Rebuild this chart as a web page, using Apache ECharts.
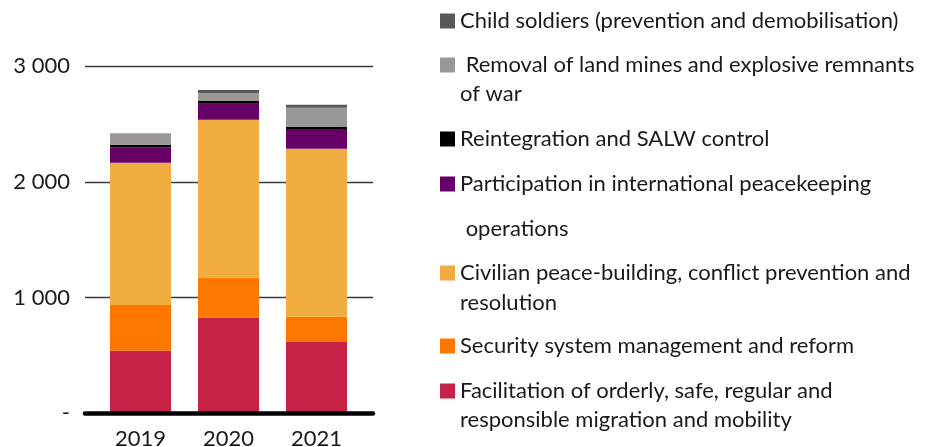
<!DOCTYPE html>
<html>
<head>
<meta charset="utf-8">
<style>
html,body{margin:0;padding:0;background:#fff;}
#chart{width:933px;height:447px;}
</style>
<script src="https://cdn.jsdelivr.net/npm/echarts@6/dist/echarts.min.js"></script>
</head>
<body>
<div id="chart"></div>
<script>
// ---- data ----
var years = ['2019', '2020', '2021'];
var facilitation = [542, 828, 617];
var security = [395, 346, 219];
var civilian = [1229, 1364, 1452];
var participation = [135, 139, 170];
var reintegration = [20, 23, 17];
var removal = [101, 69, 167];
var childSoldiers = [0, 26, 26];
var yTickLabels = ['-', '1 000', '2 000', '3 000'];

var names = {
  child: 'Child soldiers (prevention and demobilisation)',
  removal: 'Removal of land mines and explosive remnants of war',
  reint: 'Reintegration and SALW control',
  part: 'Participation in international peacekeeping operations',
  civ: 'Civilian peace-building, conflict prevention and resolution',
  sec: 'Security system management and reform',
  fac: 'Facilitation of orderly, safe, regular and responsible migration and mobility'
};
var colors = {
  child: '#585858', removal: '#9b9797', reint: '#000000', part: '#660066',
  civ: '#f0ac3f', sec: '#fe7800', fac: '#c62245'
};
// legend display text (blank first line keeps marker on the first text line)
var legendText = {
  child: 'Child soldiers (prevention and demobilisation)',
  removal: '\n Removal of land mines and explosive remnants\nof war',
  reint: 'Reintegration and SALW control',
  part: '\nParticipation in international peacekeeping\n operations',
  civ: '\nCivilian peace-building, conflict prevention and\nresolution',
  sec: 'Security system management and reform',
  fac: '\nFacilitation of orderly, safe, regular and\nresponsible migration and mobility'
};
var FONT = 'Lato';
var FS = 22;
var TXT = '#1a1a1a';

// legend marker centres (y) and line heights
var legendSpec = [
  {k: 'child', c: 21, lh: 28, lines: 1},
  {k: 'removal', c: 65, lh: 29, lines: 3},
  {k: 'reint', c: 139, lh: 28, lines: 1},
  {k: 'part', c: 184, lh: 45, lines: 3},
  {k: 'civ', c: 273, lh: 30, lines: 3},
  {k: 'sec', c: 346, lh: 28, lines: 1},
  {k: 'fac', c: 391, lh: 29, lines: 3}
];
var legends = legendSpec.map(function (s) {
  return {
    data: [names[s.k]],
    left: 440,
    top: s.c - s.lh * s.lines / 2,
    padding: 0,
    itemWidth: 15,
    itemHeight: 15,
    icon: 'rect',
    selectedMode: false,
    formatter: function () { return legendText[s.k]; },
    textStyle: {fontFamily: FONT, fontSize: FS, color: TXT, lineHeight: s.lh}
  };
});

function mk(key, data) {
  return {
    name: names[key], type: 'bar', stack: 'total', data: data,
    xAxisIndex: 1, yAxisIndex: 1, barWidth: 61,
    itemStyle: {color: colors[key]}
  };
}

var GRID_TOP = 66.3, GRID_BOTTOM = 447 - 413.4;
var option = {
  animation: false,
  backgroundColor: '#fff',
  legend: legends,
  grid: [
    {left: 85, width: 288, top: GRID_TOP, bottom: GRID_BOTTOM, outerBoundsMode: 'none', containLabel: false},
    {left: 96.5, width: 264, top: GRID_TOP, bottom: GRID_BOTTOM, outerBoundsMode: 'none', containLabel: false}
  ],
  xAxis: [
    {gridIndex: 0, type: 'value', min: 0, max: 1, z: 10,
     axisLine: {show: true, onZero: false, lineStyle: {color: '#000', width: 4.5}},
     axisTick: {show: false}, axisLabel: {show: false}, splitLine: {show: false}},
    {gridIndex: 1, type: 'category', data: years,
     axisLine: {show: false}, axisTick: {show: false},
     axisLabel: {margin: 15, fontFamily: FONT, fontSize: FS, color: TXT}}
  ],
  yAxis: [
    {gridIndex: 0, type: 'value', min: 0, max: 3000, interval: 1000,
     axisLine: {show: false}, axisTick: {show: false},
     axisLabel: {margin: 15, fontFamily: FONT, fontSize: FS, color: TXT,
       formatter: function (v) { return yTickLabels[Math.round(v / 1000)]; }},
     splitLine: {show: true, lineStyle: {color: '#3a3a3a', width: 1.4}}},
    {gridIndex: 1, type: 'value', min: 0, max: 3000, interval: 1000, show: false,
     splitLine: {show: false}}
  ],
  series: [
    mk('fac', facilitation),
    mk('sec', security),
    mk('civ', civilian),
    mk('part', participation),
    mk('reint', reintegration),
    mk('removal', removal),
    mk('child', childSoldiers)
  ]
};
var chart = echarts.init(document.getElementById('chart'), null, {renderer: 'canvas'});
chart.setOption(option);
</script>
</body>
</html>
